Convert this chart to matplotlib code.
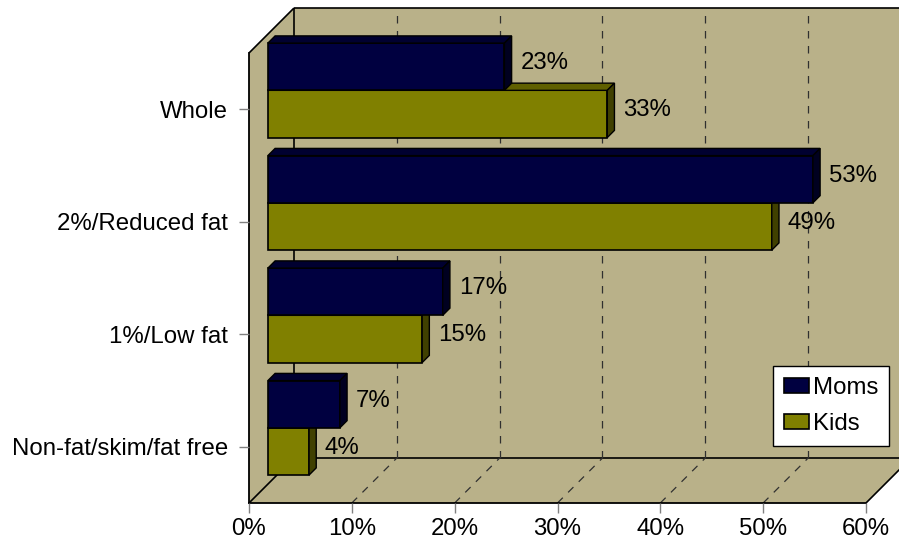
import matplotlib

matplotlib.use("Agg")
import matplotlib.pyplot as plt
from matplotlib.patches import Polygon

plt.rcParams["font.family"] = ["Liberation Sans", "DejaVu Sans"]

# milk type drunk, share of respondents (%)
categories = ["Non-fat/skim/fat free", "1%/Low fat", "2%/Reduced fat", "Whole"]
moms = [7, 17, 53, 23]
kids = [4, 15, 49, 33]
series = ["Moms", "Kids"]
xticks = [0, 10, 20, 30, 40, 50, 60]

WALL = "#b9b189"
FRONT = {"Moms": "#000040", "Kids": "#808000"}
TOP = {"Moms": "#000030", "Kids": "#606000"}
SIDE = {"Moms": "#000020", "Kids": "#404000"}

# depth of the 3d box in data units (x in %, y in category rows)
DX, DY = 4.376, 0.4
F_DEPTH, B_DEPTH = 0.42, 0.58  # front / back plane of the bars, as fraction of depth
BAR_H = 0.42
FS = 17.3

fig = plt.figure(figsize=(8.99, 5.46), dpi=100)
ax = fig.add_axes([249 / 899, 43 / 546, 617 / 899, 450 / 546])
ax.set_xlim(0, 60)
ax.set_ylim(0, 4)
ax.patch.set_visible(False)

# walls and floor
back = Polygon([(DX, DY), (60 + DX + 5, DY), (60 + DX + 5, 4 + DY), (DX, 4 + DY)],
               closed=True, fc=WALL, ec="none", clip_on=False, zorder=0)
left = Polygon([(0, 0), (0, 4), (DX, 4 + DY), (DX, DY)],
               closed=True, fc=WALL, ec="none", clip_on=False, zorder=0)
floor = Polygon([(0, 0), (60, 0), (60 + DX, DY), (DX, DY)],
                closed=True, fc=WALL, ec="none", clip_on=False, zorder=0)
for p in (back, left, floor):
    ax.add_patch(p)

edge = dict(color="black", lw=1.2, clip_on=False, zorder=1, solid_capstyle="butt")
ax.plot([DX, 60 + DX + 5], [DY, DY], **edge)
ax.plot([DX, DX], [DY, 4 + DY], **edge)
ax.plot([DX, 60 + DX + 5], [4 + DY, 4 + DY], **edge)
ax.plot([0, DX], [4, 4 + DY], **edge)
ax.plot([0, DX], [0, DY], **edge)
ax.plot([60, 60 + DX], [0, DY], **edge)

# dashed gridlines on the back wall and across the floor
grid = dict(color="#303030", lw=0.9, ls=(0, (6, 6)), clip_on=False, zorder=1)
for t in xticks[1:-1]:
    ax.plot([t + DX, t + DX], [DY, 4 + DY], **grid)
    ax.plot([t, t + DX], [0, DY], **grid)

# bars: front face via barh, top and side faces as polygons
fx, fy = F_DEPTH * DX, F_DEPTH * DY
ddx, ddy = (B_DEPTH - F_DEPTH) * DX, (B_DEPTH - F_DEPTH) * DY
handles = {}
z = 2
for i in range(len(categories) - 1, -1, -1):
    for name, vals, off in (("Kids", kids, -BAR_H), ("Moms", moms, 0.0)):
        v = vals[i]
        y0 = i + 0.5 + off + fy
        bars = ax.barh(y0, v, height=BAR_H, left=fx, align="edge", color=FRONT[name],
                       edgecolor="black", linewidth=1.2, zorder=z, clip_on=False)
        handles[name] = bars
        x1 = fx + v
        top = Polygon([(fx, y0 + BAR_H), (x1, y0 + BAR_H), (x1 + ddx, y0 + BAR_H + ddy),
                       (fx + ddx, y0 + BAR_H + ddy)], closed=True, fc=TOP[name],
                      ec="black", lw=1.0, zorder=z, clip_on=False)
        side = Polygon([(x1, y0), (x1, y0 + BAR_H), (x1 + ddx, y0 + BAR_H + ddy),
                        (x1 + ddx, y0 + ddy)], closed=True, fc=SIDE[name],
                       ec="black", lw=1.0, zorder=z, clip_on=False)
        ax.add_patch(top)
        ax.add_patch(side)
        ax.text(x1 + ddx + 0.85, y0 + BAR_H / 2 + ddy / 2, f"{v}%", fontsize=FS,
                ha="left", va="center", zorder=z + 1, clip_on=False)
        z += 1

# axes, ticks and labels
for s in ("top", "right"):
    ax.spines[s].set_visible(False)
for s in ("left", "bottom"):
    ax.spines[s].set_color("black")
    ax.spines[s].set_linewidth(1.3)
    ax.spines[s].set_zorder(1)
ax.set_xticks(xticks)
ax.set_xticklabels([f"{t}%" for t in xticks])
ax.set_yticks([i + 0.5 for i in range(len(categories))])
ax.set_yticklabels(categories)
ax.tick_params(axis="x", length=7, width=1, color="#808080", pad=4, labelsize=FS)
ax.tick_params(axis="y", length=7, width=1, color="#808080", pad=8, labelsize=FS)

leg = fig.legend([handles["Moms"], handles["Kids"]], series, loc="upper right",
                 bbox_to_anchor=(889 / 899, 1 - 366 / 546), fontsize=FS,
                 frameon=True, fancybox=False, borderpad=0.45, labelspacing=0.6,
                 handlelength=1.05, handleheight=0.6, handletextpad=0.15,
                 borderaxespad=0, framealpha=1)
leg.get_frame().set_edgecolor("black")
leg.get_frame().set_linewidth(1.0)
leg.set_zorder(20)

fig.savefig("out.png", dpi=100)
